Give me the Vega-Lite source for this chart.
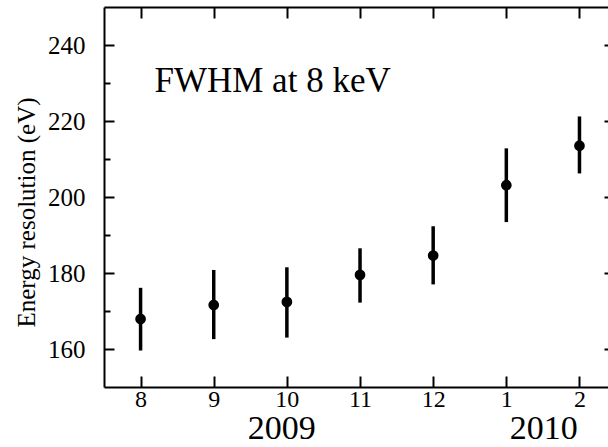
{
  "$schema": "https://vega.github.io/schema/vega-lite/v6.json",
  "autosize": "none",
  "width": 504,
  "height": 380,
  "padding": {"left": 104, "top": 7, "right": 0, "bottom": 60},
  "background": "white",
  "config": {
    "view": {"stroke": null},
    "font": "Liberation Serif",
    "axis": {
      "domainColor": "black",
      "domainWidth": 2,
      "tickColor": "black",
      "tickWidth": 2,
      "labelColor": "black",
      "labelFont": "Liberation Serif",
      "titleFont": "Liberation Serif",
      "titleColor": "black",
      "titleFontWeight": "normal",
      "grid": false
    }
  },
  "datasets": {
    "res": [
      {"month": "8", "idx": 0, "fwhm": 167.9, "lo": 159.6, "hi": 176.1},
      {"month": "9", "idx": 1, "fwhm": 171.6, "lo": 162.6, "hi": 180.8},
      {"month": "10", "idx": 2, "fwhm": 172.4, "lo": 163.0, "hi": 181.5},
      {"month": "11", "idx": 3, "fwhm": 179.5, "lo": 172.2, "hi": 186.5},
      {"month": "12", "idx": 4, "fwhm": 184.6, "lo": 177.0, "hi": 192.3},
      {"month": "1", "idx": 5, "fwhm": 203.1, "lo": 193.4, "hi": 212.8},
      {"month": "2", "idx": 6, "fwhm": 213.5, "lo": 206.2, "hi": 221.2}
    ],
    "notes": [
      {"text": "FWHM at 8 keV", "idx": 0.19, "val": 227.6}
    ],
    "years": [
      {"text": "2009", "idx": 1.93, "val": 136.3},
      {"text": "2010", "idx": 5.51, "val": 136.3}
    ]
  },
  "resolve": {"axis": {"x": "independent", "y": "independent"}},
  "layer": [
    {
      "data": {"name": "res"},
      "mark": {"type": "rule", "color": "black", "strokeWidth": 3.5},
      "encoding": {
        "x": {
          "field": "idx", "type": "quantitative",
          "scale": {"domain": [-0.5, 6.39], "nice": false, "zero": false},
          "axis": {
            "orient": "bottom", "title": null,
            "values": [0, 1, 2, 3, 4, 5, 6],
            "labelExpr": "['8','9','10','11','12','1','2'][datum.value]",
            "labelFontSize": 24,
            "tickSize": -11, "labelPadding": 11, "labelFlush": false
          }
        },
        "y": {
          "field": "lo", "type": "quantitative",
          "scale": {"domain": [150, 250], "nice": false, "zero": false},
          "axis": {
            "orient": "left",
            "title": "Energy resolution (eV)",
            "titleFontSize": 25,
            "titleX": -65,
            "titleY": 205,
            "values": [160, 170, 180, 190, 200, 210, 220, 230, 240],
            "labelExpr": "datum.value % 20 == 0 ? datum.label : ''",
            "labelFontSize": 25,
            "tickSize": {"condition": {"test": "datum.value % 20 == 0", "value": -10}, "value": -6},
            "labelPadding": 29
          }
        },
        "y2": {"field": "hi"}
      }
    },
    {
      "data": {"name": "res"},
      "mark": {"type": "point", "shape": "circle", "filled": true, "color": "black", "opacity": 1, "size": 115},
      "encoding": {
        "x": {
          "field": "idx", "type": "quantitative",
          "axis": {
            "orient": "top", "title": null, "labels": false,
            "values": [0, 1, 2, 3, 4, 5, 6],
            "tickSize": -11
          }
        },
        "y": {
          "field": "fwhm", "type": "quantitative",
          "axis": {
            "orient": "right", "title": null, "labels": false, "domain": false,
            "values": [160, 180, 200, 220, 240],
            "tickSize": -4
          }
        }
      }
    },
    {
      "data": {"name": "notes"},
      "mark": {"type": "text", "align": "left", "baseline": "alphabetic", "fontSize": 35, "color": "black", "font": "Liberation Serif"},
      "encoding": {
        "x": {"field": "idx", "type": "quantitative", "axis": null},
        "y": {"field": "val", "type": "quantitative", "axis": null},
        "text": {"field": "text"}
      }
    },
    {
      "data": {"name": "years"},
      "mark": {"type": "text", "align": "center", "baseline": "alphabetic", "fontSize": 34, "color": "black", "font": "Liberation Serif"},
      "encoding": {
        "x": {"field": "idx", "type": "quantitative", "axis": null},
        "y": {"field": "val", "type": "quantitative", "axis": null},
        "text": {"field": "text"}
      }
    }
  ]
}
